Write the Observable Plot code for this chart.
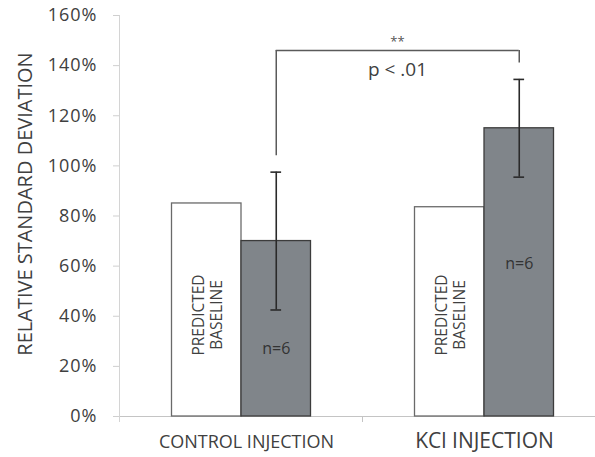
<!DOCTYPE html>
<html><head><meta charset="utf-8">
<script src="https://cdn.jsdelivr.net/npm/d3@7"></script>
<script src="https://cdn.jsdelivr.net/npm/@observablehq/plot@0.6"></script>
<style>
body{margin:0;background:#fff;}
#chart svg [aria-label="y-axis tick"] path, #chart svg .tick line{stroke:#cfcfcf;}
#chart svg [aria-label="y-axis tick label"] text, #chart svg .tick text{letter-spacing:1px;}
</style></head><body><div id="chart"></div>
<script>
// ---- data ----
const groups = ["CONTROL INJECTION", "KCl INJECTION"];
const baseline = [85, 83.5];          // predicted baseline (%)
const measured = [70, 115];           // measured relative SD (%)
const errLow = [42.5, 95.5];          // error bar lower end (%)
const errHigh = [97.5, 134.5];        // error bar upper end (%)
const nLabels = ["n=6", "n=6"];
const nLabelY = [27, 61];             // where the n labels sit (%)
const baselineLabel = "PREDICTED\nBASELINE";
const baselineLabelY = 40.5;
const yTicks = [0, 20, 40, 60, 80, 100, 120, 140, 160];
const bracketY = 146;                 // top of significance bracket (%)
const bracketLegEnd = [104, 141];     // lower ends of bracket legs (%)
const sigStars = "**";
const sigText = "p < .01";
const yTitle = "RELATIVE STANDARD DEVIATION";

const data = groups.map((g, i) => ({
  group: g, baseline: baseline[i], measured: measured[i],
  lo: errLow[i], hi: errHigh[i], n: nLabels[i], nY: nLabelY[i], leg: bracketLegEnd[i]
}));

const half = 121.5;      // half band width (px)
const gCenter = 35.25;   // grey bar centre offset from band centre
const txt = "#404040";

const chart = Plot.plot({
  width: 595, height: 457,
  marginLeft: 119, marginRight: 0, marginTop: 15, marginBottom: 41,
  style: {fontFamily: "'Open Sans', sans-serif", background: "#fff", color: txt, fontSize: "18px"},
  x: {domain: groups, range: [119, 605], padding: 0, axis: null},
  y: {domain: [0, 160], ticks: yTicks, tickFormat: d => d + "%", tickSize: 6, tickPadding: 16, label: null},
  marks: [
    Plot.ruleY([0], {stroke: "#c4c4c4", strokeWidth: 1.2}),
    Plot.ruleX([groups[0]], {x: d => d, dx: -half, y1: () => -2.4, y2: () => 160, stroke: "#d4d4d4"}),
    Plot.ruleX([groups[1]], {x: d => d, dx: -half, y1: () => -2.4, y2: () => 0, stroke: "#c4c4c4"}),
    Plot.barY(data, {x: "group", y: "baseline", fill: "#ffffff", stroke: "#6a6a6a", strokeWidth: 1.3,
      insetLeft: 52.5, insetRight: 121}),
    Plot.barY(data, {x: "group", y: "measured", fill: "#80858a", stroke: "#3c3c3c", strokeWidth: 1.3,
      insetLeft: 122, insetRight: 51.5}),
    Plot.ruleX(data, {x: "group", y1: "lo", y2: "hi", dx: gCenter, stroke: "#2a2a2a", strokeWidth: 1.6}),
    Plot.tickY(data, {x: "group", y: "lo", insetLeft: 151.4, insetRight: 80.9, stroke: "#2a2a2a", strokeWidth: 1.6}),
    Plot.tickY(data, {x: "group", y: "hi", insetLeft: 151.4, insetRight: 80.9, stroke: "#2a2a2a", strokeWidth: 1.6}),
    // significance bracket
    Plot.ruleY([{a: groups[0], b: groups[1], y: bracketY}], {x1: "a", x2: "b", y: "y",
      insetLeft: 156.75, insetRight: 86.25, stroke: "#5a5a5a", strokeWidth: 1.5}),
    Plot.ruleX(data, {x: "group", dx: gCenter, y1: "leg", y2: () => bracketY, stroke: "#5a5a5a", strokeWidth: 1.5}),
    Plot.text([sigStars], {x: () => groups[1], y: () => bracketY, text: d => d, dx: -86.5, dy: -9,
      fontSize: 13, fill: "#555"}),
    Plot.text([sigText], {x: () => groups[1], y: () => bracketY, text: d => d, dx: -86.5, dy: 19,
      fontSize: 19, fill: txt}),
    // labels in bars
    Plot.text(data, {x: "group", y: () => baselineLabelY, text: () => baselineLabel, rotate: -90, dx: -34,
      fontSize: 15.5, lineHeight: 1.2, fill: txt}),
    Plot.text(data, {x: "group", y: "nY", text: "n", dx: gCenter, fontSize: 16, fill: "#333"}),
    // x category labels
    Plot.text([groups[0]], {x: d => d, text: d => d, frameAnchor: "bottom", dy: 31, dx: 5.5,
      fontSize: 18, fill: txt}),
    Plot.text([groups[1]], {x: d => d, text: d => d, frameAnchor: "bottom", dy: 31, dx: 0.5,
      fontSize: 21, fill: txt}),
    // y title
    Plot.text([yTitle], {frameAnchor: "left", text: d => d, rotate: -90, dx: -94, dy: -12,
      textAnchor: "middle", fontSize: 20, fill: txt})
  ]
});
document.getElementById("chart").appendChild(chart);
</script></body></html>
